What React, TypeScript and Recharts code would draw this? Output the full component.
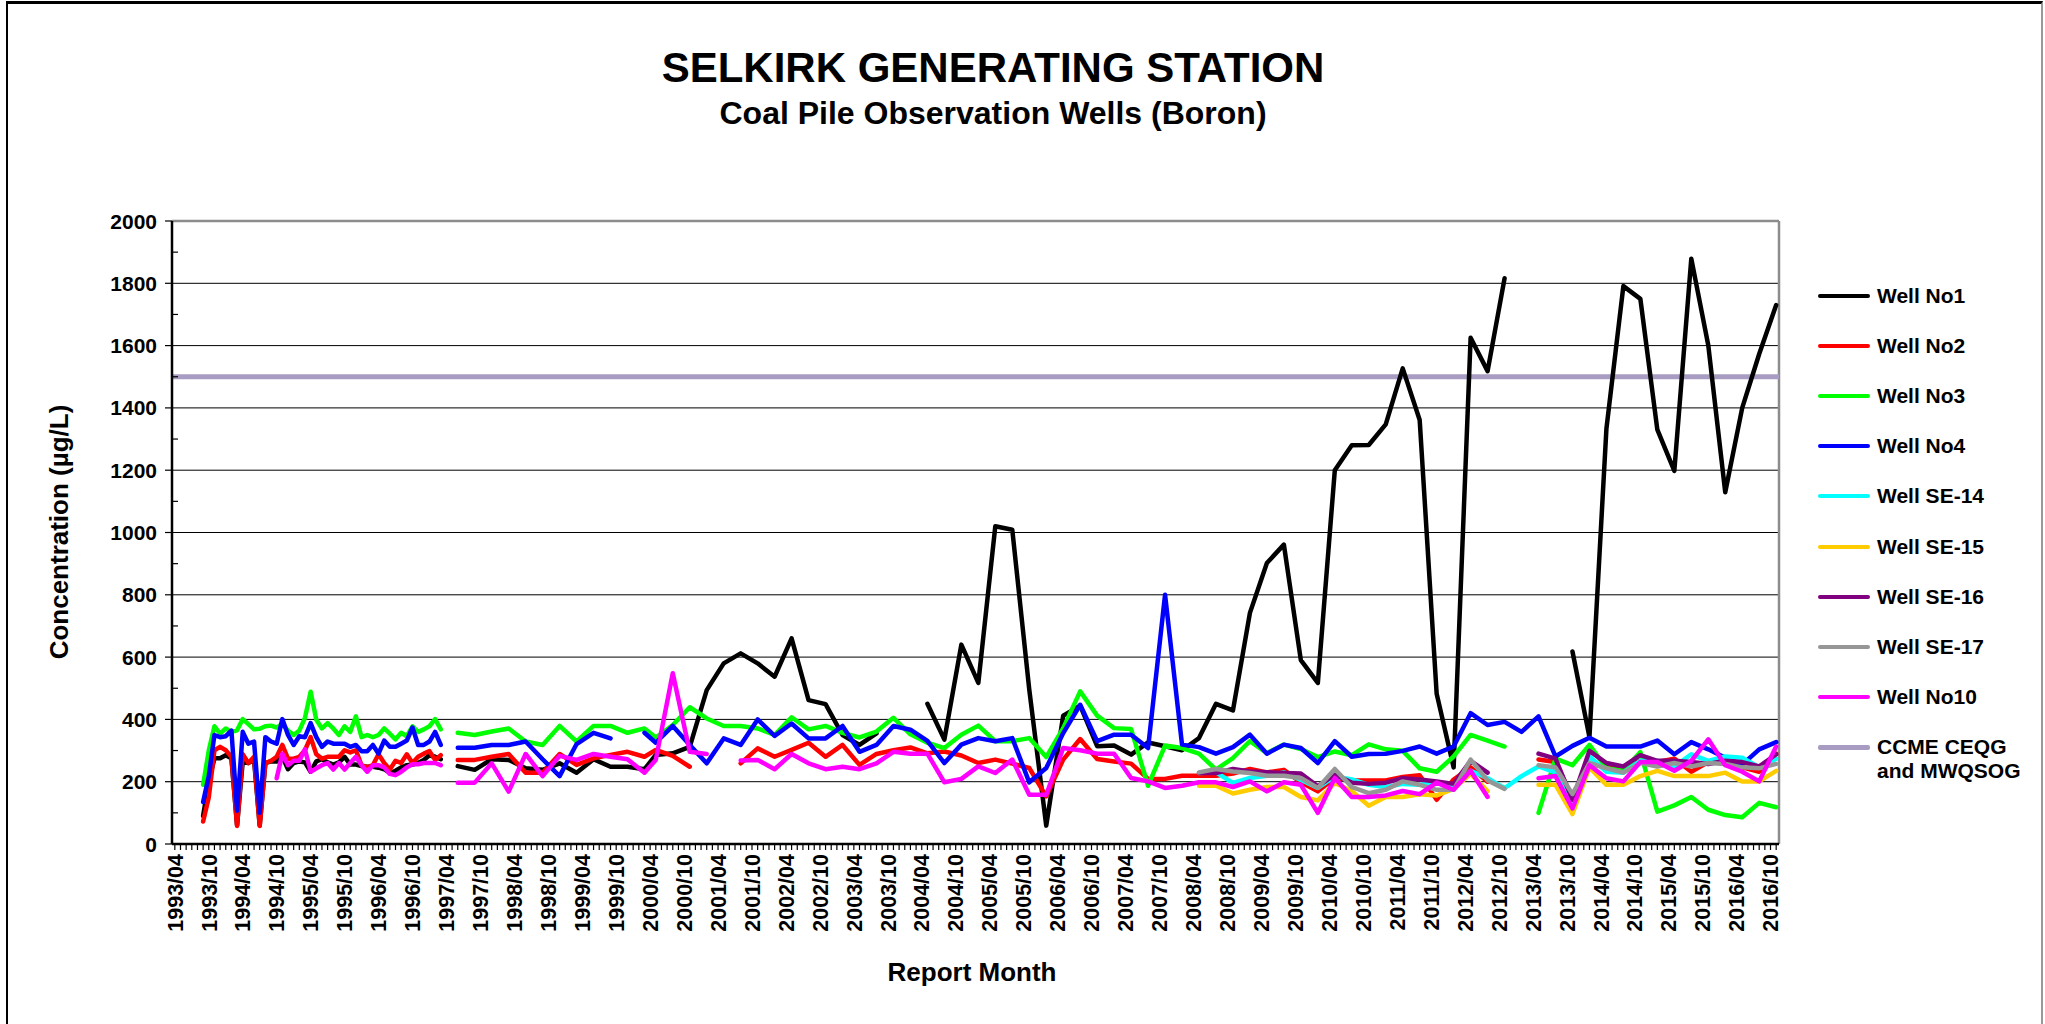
import React from 'react';
import { LineChart, Line, XAxis, YAxis, ReferenceLine } from 'recharts';

const font = "'Liberation Sans', Arial, sans-serif";

// report months (monthly sampling to 1997, quarterly after)
const reportMonths = [
  '1993/09', '1993/10', '1993/11', '1993/12',
  '1994/01', '1994/02', '1994/03', '1994/04', '1994/05', '1994/06', '1994/07', '1994/08', '1994/09', '1994/10', '1994/11', '1994/12',
  '1995/01', '1995/02', '1995/03', '1995/04', '1995/05', '1995/06', '1995/07', '1995/08', '1995/09', '1995/10', '1995/11', '1995/12',
  '1996/01', '1996/02', '1996/03', '1996/04', '1996/05', '1996/06', '1996/07', '1996/08', '1996/09', '1996/10', '1996/11', '1996/12',
  '1997/01', '1997/02', '1997/03', '1997/04', '1997/06', '1997/09', '1997/12',
  '1998/03', '1998/06', '1998/09', '1998/12',
  '1999/03', '1999/06', '1999/09', '1999/12',
  '2000/03', '2000/05', '2000/08', '2000/11',
  '2001/02', '2001/05', '2001/08', '2001/11',
  '2002/02', '2002/05', '2002/08', '2002/11',
  '2003/02', '2003/05', '2003/08', '2003/11',
  '2004/02', '2004/05', '2004/08', '2004/11',
  '2005/02', '2005/05', '2005/08', '2005/11',
  '2006/02', '2006/05', '2006/08', '2006/11',
  '2007/02', '2007/05', '2007/08', '2007/11',
  '2008/02', '2008/05', '2008/08', '2008/11',
  '2009/02', '2009/05', '2009/08', '2009/11',
  '2010/02', '2010/05', '2010/08', '2010/11',
  '2011/02', '2011/05', '2011/08', '2011/11',
  '2012/02', '2012/05', '2012/08', '2012/11',
  '2013/02', '2013/05', '2013/08', '2013/11',
  '2014/02', '2014/05', '2014/08', '2014/11',
  '2015/02', '2015/05', '2015/08', '2015/11',
  '2016/02', '2016/05', '2016/08', '2016/11',
];

const well1 = [
  90, 200, 275, 275,
  285, 275, 60, 265, 260, 270, 60, 260, 265, 265, 280, 240,
  260, 265, 262, 232, 265, 272, 262, 255, 262, 280, 255, 255,
  250, 248, 248, 245, 240, 228, 235, 246, 253, 255, 260, 270,
  285, 280, 272, null, 250, 238, 272,
  270, 243, 238, 259,
  229, 272, 248, 248,
  240, 286, 291, 312,
  494, 580, 612, 580,
  537, 660, 462, 449,
  350, 318, 355, null,
  null, 450, 335, 640,
  517, 1020, 1009, 496,
  59, 412, 444, 314,
  316, 287, 326, 314,
  301, 340, 450, 429,
  742, 902, 961, 590,
  517, 1200, 1280, 1281,
  1347, 1527, 1361, 482,
  246, 1625, 1518, 1816,
  null, null, null, 618,
  343, 1333, 1791, 1750,
  1330, 1198, 1879, 1601,
  1129, 1400, 1573, 1730,
];

const well2 = [
  72, 149, 301, 312,
  301, 280, 58, 288, 260, 280, 58, 260, 267, 280, 318, 274,
  274, 280, 301, 343, 288, 274, 280, 280, 280, 301, 294, 301,
  253, 246, 253, 288, 260, 239, 267, 260, 288, 260, 280, 290,
  298, 270, 285, null, 270, 270, 280,
  289, 229, 229, 289,
  254, 275, 286, 296,
  280, 302, 283, 248,
  null, null, 259, 307,
  280, 302, 325, 280,
  318, 254, 289, 301,
  310, 291, 297, 284,
  260, 271, 258, 244,
  153, 271, 337, 273,
  265, 258, 209, 209,
  219, 219, 219, 226,
  241, 230, 238, 198,
  169, 212, 205, 204,
  204, 215, 221, 142,
  207, 246, 200, null,
  null, 271, 263, 149,
  253, 253, 249, 267,
  263, 274, 232, 263,
  260, 246, 232, 290,
];

const well3 = [
  190, 300, 378, 354,
  371, 360, 365, 401, 385, 368, 370, 378, 380, 374, 385, 364,
  350, 364, 405, 489, 399, 371, 388, 371, 350, 378, 360, 410,
  343, 350, 343, 350, 371, 354, 336, 357, 346, 378, 360, 368,
  378, 401, 368, null, 357, 350, 361,
  371, 329, 318, 379,
  329, 379, 379, 357,
  371, 342, 382, 439,
  403, 379, 379, 371,
  350, 407, 368, 379,
  357, 342, 361, 405,
  352, 325, 308, 351,
  380, 330, 330, 340,
  279, 372, 490, 412,
  372, 369, 187, 316,
  308, 290, 239, 276,
  330, 292, 319, 305,
  279, 297, 285, 320,
  304, 299, 243, 232,
  281, 350, 332, 313,
  null, 100, 274, 253,
  318, 243, 235, 295,
  104, 124, 151, 110,
  93, 86, 132, 118,
];

const well4 = [
  135, 218, 350, 343,
  346, 364, 107, 360, 322, 329, 100, 343, 329, 322, 401, 350,
  318, 346, 343, 388, 343, 312, 329, 322, 322, 322, 312, 318,
  298, 298, 318, 290, 332, 312, 312, 322, 332, 374, 318, 318,
  329, 360, 318, null, 309, 309, 318,
  318, 329, 272, 218,
  321, 357, 339, null,
  357, 325, 379, 318,
  259, 339, 318, 400,
  347, 387, 339, 339,
  379, 296, 318, 379,
  367, 331, 260, 319,
  340, 330, 340, 198,
  244, 356, 447, 330,
  351, 351, 308, 800,
  319, 311, 290, 311,
  351, 290, 319, 308,
  260, 330, 280, 289,
  290, 299, 313, 290,
  313, 420, 382, 392,
  360, 410, 281, 315,
  341, 313, 313, 313,
  332, 288, 327, 304,
  277, 255, 304, 327,
];

// SE wells start 2008/05
const wellSE14 = [
  228, 230, 196,
  212, 219, 230, 206,
  180, 217, 207, 190,
  183, 193, 190, 197,
  179, 235, 211, 179,
  218, 249, 230, 140,
  281, 232, 229, 267,
  267, 249, 288, 267,
  281, 277, 246, 274,
];

const wellSE15 = [
  187, 187, 162,
  174, 183, 183, 151,
  140, 196, 170, 123,
  151, 151, 160, 156,
  177, 225, 170, null,
  null, 190, 190, 96,
  246, 190, 190, 218,
  235, 218, 218, 218,
  229, 201, 201, 235,
];

const wellSE16 = [
  228, 228, 241,
  233, 230, 228, 226,
  185, 223, 197, 193,
  197, 211, 207, 201,
  193, 267, 229, null,
  null, 290, 274, 142,
  299, 260, 249, 285,
  267, 267, 263, 257,
  267, 263, 249, 288,
];

const wellSE17 = [
  230, 241, 233,
  228, 219, 219, 212,
  180, 241, 183, 163,
  174, 201, 190, 174,
  174, 271, 204, 177,
  null, 253, 246, 160,
  260, 243, 229, 260,
  249, 260, 249, 260,
  257, 246, 243, 257,
];

// starts 1994/10
const well10 = [
  211, 290, 253,
  267, 267, 304, 232, 243, 253, 260, 239, 260, 239, 260, 280,
  253, 232, 253, 253, 246, 225, 221, 232, 246, 256, 256, 260,
  260, 260, 253, null, 197, 197, 259,
  168, 289, 218, 283,
  270, 289, 280, 272,
  229, 270, 548, 296,
  289, null, 268, 270,
  240, 289, 259, 240,
  248, 240, 259, 296,
  290, 290, 198, 209,
  249, 228, 271, 158,
  158, 308, 301, 290,
  290, 212, 201, 180,
  187, 198, 198, 183,
  201, 169, 198, 190,
  100, 212, 151, 151,
  156, 170, 160, 197,
  174, 235, 151, null,
  null, 211, 218, 114,
  253, 211, 201, 263,
  263, 235, 267, 336,
  253, 232, 201, 313,
];

const ccmeGuideline = 1500;

const tickLabels = [
  '1993/04', '1993/10', '1994/04', '1994/10', '1995/04', '1995/10', '1996/04', '1996/10',
  '1997/04', '1997/10', '1998/04', '1998/10', '1999/04', '1999/10', '2000/04', '2000/10',
  '2001/04', '2001/10', '2002/04', '2002/10', '2003/04', '2003/10', '2004/04', '2004/10',
  '2005/04', '2005/10', '2006/04', '2006/10', '2007/04', '2007/10', '2008/04', '2008/10',
  '2009/04', '2009/10', '2010/04', '2010/10', '2011/04', '2011/10', '2012/04', '2012/10',
  '2013/04', '2013/10', '2014/04', '2014/10', '2015/04', '2015/10', '2016/04', '2016/10',
];

const yTicks = [0, 100, 200, 300, 400, 500, 600, 700, 800, 900, 1000, 1100, 1200, 1300, 1400, 1500, 1600, 1700, 1800, 1900, 2000];
const gridValues = [200, 400, 600, 800, 1000, 1200, 1400, 1600, 1800];

const series = [
  { key: 'w1', name: 'Well No1', color: '#000000', start: '1993/09', values: well1 },
  { key: 'w2', name: 'Well No2', color: '#FF0000', start: '1993/09', values: well2 },
  { key: 'w3', name: 'Well No3', color: '#00FF00', start: '1993/09', values: well3 },
  { key: 'w4', name: 'Well No4', color: '#0000FF', start: '1993/09', values: well4 },
  { key: 'se14', name: 'Well SE-14', color: '#00FFFF', start: '2008/05', values: wellSE14 },
  { key: 'se15', name: 'Well SE-15', color: '#FFCC00', start: '2008/05', values: wellSE15 },
  { key: 'se16', name: 'Well SE-16', color: '#800080', start: '2008/05', values: wellSE16 },
  { key: 'se17', name: 'Well SE-17', color: '#969696', start: '2008/05', values: wellSE17 },
  { key: 'w10', name: 'Well No10', color: '#FF00FF', start: '1994/10', values: well10 },
];

// month number counted from 1993/04
const monthIndex = (d: string) => {
  const [y, m] = d.split('/').map(Number);
  return (y - 1993) * 12 + (m - 4);
};

const rows = reportMonths.map((d, i) => {
  const row: Record<string, number | null> = { m: monthIndex(d) };
  series.forEach((s) => {
    const j = i - reportMonths.indexOf(s.start);
    row[s.key] = j >= 0 && j < s.values.length ? s.values[j] : null;
  });
  return row;
});

const monthTicks = Array.from({ length: 284 }, (_, i) => i);

const MonthTick = (props: any) => {
  const { x, y, payload } = props;
  const m = payload.value as number;
  const label = m % 6 === 0 ? tickLabels[m / 6] : null;
  return (
    <g>
      <line x1={x} x2={x} y1={y} y2={y + 6} stroke="#000" strokeWidth={1.2} />
      {label && (
        <text
          transform={`translate(${x},${y + 10}) rotate(-90)`}
          dy="0.36em"
          textAnchor="end"
          fontSize={21.5}
          fontWeight="bold"
          fontFamily={font}
          fill="#000"
        >
          {label}
        </text>
      )}
    </g>
  );
};

const ConcTick = (props: any) => {
  const { x, y, payload } = props;
  const v = payload.value as number;
  if (v % 200 !== 0) {
    return <line x1={x} x2={x + 6} y1={y} y2={y} stroke="#000" strokeWidth={1.2} />;
  }
  return (
    <g>
      <line x1={x - 7} x2={x} y1={y} y2={y} stroke="#000" strokeWidth={1.2} />
      <text x={x - 15} y={y} dy="0.36em" textAnchor="end" fontSize={21} fontWeight="bold" fontFamily={font} fill="#000">
        {v}
      </text>
    </g>
  );
};

const text = (size: number) => ({
  fontFamily: font,
  fontWeight: 'bold' as const,
  fontSize: size,
  color: '#000',
  whiteSpace: 'nowrap' as const,
});

export default function App() {
  return (
    <div style={{ position: 'absolute', left: 0, top: 0, width: 2045, height: 1024, background: '#fff', overflow: 'hidden' }}>
      <div
        style={{
          position: 'absolute', left: 6, top: 1, width: 2033, height: 1040,
          borderTop: '3px solid #000', borderLeft: '2px solid #000', borderRight: '2px solid #999',
        }}
      />
      <div style={{ ...text(42), position: 'absolute', left: 0, width: 1986, top: 44, lineHeight: '48px', textAlign: 'center' }}>
        SELKIRK GENERATING STATION
      </div>
      <div style={{ ...text(32), position: 'absolute', left: 0, width: 1986, top: 95, lineHeight: '36px', textAlign: 'center' }}>
        Coal Pile Observation Wells (Boron)
      </div>
      <div
        style={{
          ...text(26), position: 'absolute', left: 59, top: 532,
          transform: 'translate(-50%, -50%) rotate(-90deg)',
        }}
      >
        Concentration (µg/L)
      </div>
      <div style={{ ...text(26), position: 'absolute', left: 0, width: 1944, top: 956, lineHeight: '32px', textAlign: 'center' }}>
        Report Month
      </div>

      <div style={{ position: 'absolute', left: 0, top: 0 }}>
        <LineChart width={2045} height={1024} data={rows} margin={{ top: 221, right: 266, bottom: 80, left: 112 }}>
          <XAxis
            dataKey="m"
            type="number"
            domain={[-0.5, 283.5]}
            ticks={monthTicks}
            interval={0}
            tick={MonthTick}
            tickLine={false}
            tickSize={0}
            tickMargin={0}
            axisLine={{ stroke: '#000', strokeWidth: 2.5 }}
            height={100}
            allowDataOverflow
          />
          <YAxis
            type="number"
            domain={[0, 2000]}
            ticks={yTicks}
            interval={0}
            tick={ConcTick}
            tickLine={false}
            tickSize={0}
            tickMargin={0}
            axisLine={{ stroke: '#000', strokeWidth: 2.5 }}
            width={60}
          />
          {gridValues.map((v) => (
            <ReferenceLine key={v} y={v} stroke="#000" strokeWidth={1} />
          ))}
          <ReferenceLine y={2000} stroke="#8c8c8c" strokeWidth={2.5} />
          <ReferenceLine x={283.5} stroke="#8c8c8c" strokeWidth={2.5} />
          <ReferenceLine y={ccmeGuideline} stroke="#A89CC2" strokeWidth={5} />
          {series.map((s) => (
            <Line
              key={s.key}
              dataKey={s.key}
              name={s.name}
              type="linear"
              stroke={s.color}
              strokeWidth={4.5}
              strokeLinejoin="round"
              strokeLinecap="round"
              dot={false}
              activeDot={false}
              connectNulls={false}
              isAnimationActive={false}
            />
          ))}
        </LineChart>
      </div>

      {series.map((s, i) => (
        <div
          key={s.key}
          style={{ position: 'absolute', left: 1818, top: 296 + 50.1 * i - 12, height: 24, display: 'flex', alignItems: 'center' }}
        >
          <div style={{ width: 52, height: 4, borderRadius: 2, background: s.color }} />
          <div style={{ ...text(21), marginLeft: 7, lineHeight: '24px' }}>{s.name}</div>
        </div>
      ))}
      <div style={{ position: 'absolute', left: 1818, top: 296 + 50.1 * 9 - 12, display: 'flex', alignItems: 'flex-start' }}>
        <div style={{ width: 52, height: 5, borderRadius: 2, background: '#A89CC2', marginTop: 10 }} />
        <div style={{ ...text(21), marginLeft: 7, lineHeight: '24px' }}>
          CCME CEQG
          <br />
          and MWQSOG
        </div>
      </div>
    </div>
  );
}
